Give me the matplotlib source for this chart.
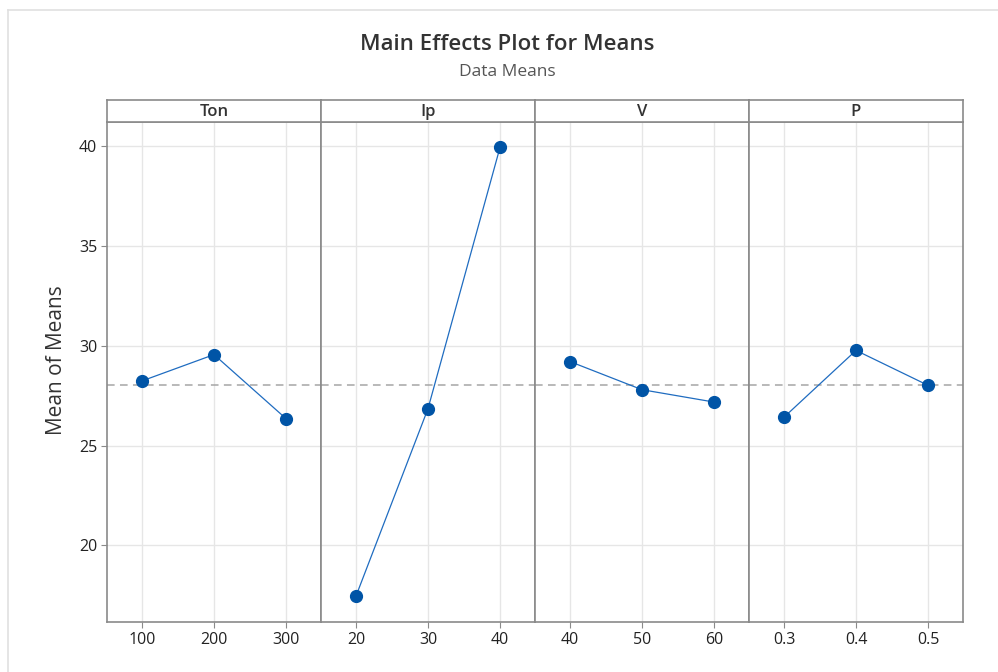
import matplotlib
matplotlib.use("Agg")
import matplotlib.pyplot as plt
from matplotlib.lines import Line2D

# data
factors = ["Ton", "Ip", "V", "P"]
levels = [["100", "200", "300"],
          ["20", "30", "40"],
          ["40", "50", "60"],
          ["0.3", "0.4", "0.5"]]
ton_means = [28.24, 29.56, 26.35]
ip_means = [17.45, 26.85, 39.95]
v_means = [29.21, 27.80, 27.18]
p_means = [26.42, 29.77, 28.02]
grand_mean = 28.05

all_means = [ton_means, ip_means, v_means, p_means]

plt.rcParams['font.family'] = ['Open Sans', 'DejaVu Sans']

W, H = 998, 672
fig = plt.figure(figsize=(W / 100, H / 100), dpi=100)

spine_col = "#8a8a8a"
grid_col = "#e6e6e6"
blue = "#0054a6"

# light frame around the graph region
fig.add_artist(Line2D([8 / W, 1], [1 - 9.5 / H, 1 - 9.5 / H], color="#e0e0e0", lw=1.2))
fig.add_artist(Line2D([8 / W, 8 / W], [0, 1 - 9.5 / H], color="#e0e0e0", lw=1.2))

fig.text(507 / W, 1 - 44 / H, "Main Effects Plot for Means", ha="center", va="center",
         fontsize=16, fontweight="semibold", color="#333333")
fig.text(507 / W, 1 - 72 / H, "Data Means", ha="center", va="center",
         fontsize=12.5, color="#555555")

left, right = 107, 963
top_plot, bottom_plot = 121.5, 622
strip_top = 99.5
pw = (right - left) / 4

ymin, ymax = 16.15, 41.25

for i, (name, labs, vals) in enumerate(zip(factors, levels, all_means)):
    x0 = left + i * pw
    ax = fig.add_axes([x0 / W, 1 - bottom_plot / H, pw / W, (bottom_plot - top_plot) / H])
    xs = list(range(len(vals)))
    ax.axhline(grand_mean, color="#a6a6a6", lw=1.1, ls=(0, (5, 3.5)), zorder=2)
    ax.plot(xs, vals, color="#1f6cc0", lw=0.9, zorder=3)
    ax.plot(xs, vals, ls="none", marker="o", ms=8.5, color=blue, mec=blue, zorder=4)
    ax.set_xlim(-0.486, 2.486)
    ax.set_ylim(ymin, ymax)
    ax.set_xticks(xs)
    ax.set_xticklabels(labs)
    ax.set_yticks([20, 25, 30, 35, 40])
    ax.grid(True, color=grid_col, lw=1.0, zorder=0)
    ax.set_axisbelow(True)
    for s in ax.spines.values():
        s.set_color(spine_col)
        s.set_linewidth(1.2)
    ax.tick_params(axis="x", length=4, color=spine_col, labelsize=11.5, labelcolor="#222222", pad=3)
    if i == 0:
        ax.tick_params(axis="y", length=4, color=spine_col, labelsize=11.5, labelcolor="#222222", pad=3)
        ax.set_ylabel("Mean of Means", fontsize=15, color="#333333")
        ax.yaxis.set_label_coords(-0.187, 0.523)
    else:
        ax.tick_params(axis="y", left=False, labelleft=False)

    sax = fig.add_axes([x0 / W, 1 - top_plot / H, pw / W, (top_plot - strip_top) / H])
    sax.set_xticks([])
    sax.set_yticks([])
    for s in sax.spines.values():
        s.set_color(spine_col)
        s.set_linewidth(1.2)
    sax.text(0.5, 0.45, name, transform=sax.transAxes, ha="center", va="center",
             fontsize=12, fontweight="semibold", color="#333333")

fig.savefig("out.png", dpi=100)
